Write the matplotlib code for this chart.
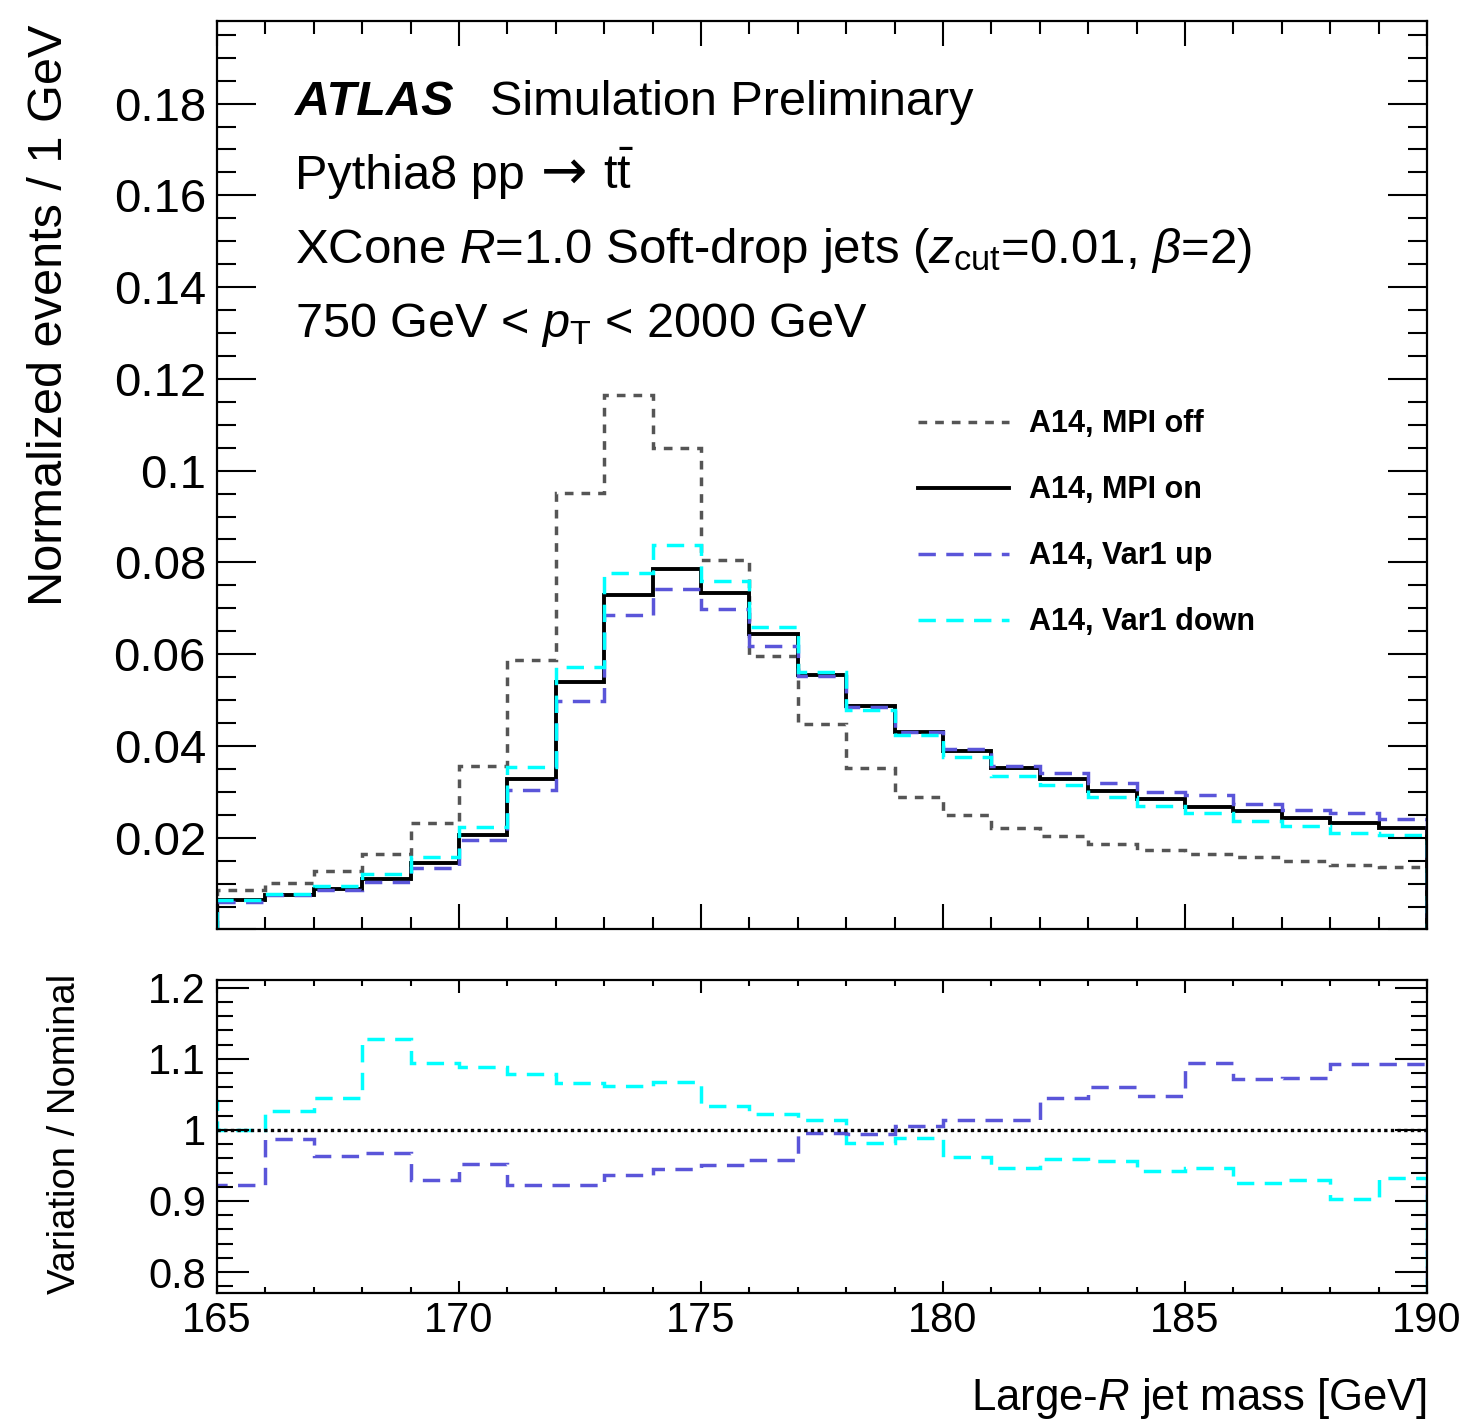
import numpy as np
import matplotlib
matplotlib.use("Agg")
import matplotlib.pyplot as plt
from matplotlib.ticker import MultipleLocator, FormatStrFormatter, FuncFormatter

plt.rcParams['font.family'] = ['Liberation Sans', 'DejaVu Sans']
plt.rcParams['mathtext.fontset'] = 'custom'
plt.rcParams['mathtext.rm'] = 'Liberation Sans'
plt.rcParams['mathtext.it'] = 'Liberation Sans:italic'
plt.rcParams['mathtext.bf'] = 'Liberation Sans:bold'

# 1 GeV bins, 165 - 190 GeV
bin_edges = np.arange(165, 191)
mpi_off = [0.0085, 0.0102, 0.0127, 0.0165, 0.0232, 0.0356, 0.0588, 0.0952, 0.1164, 0.1050,
           0.0806, 0.0596, 0.0448, 0.0351, 0.0288, 0.0250, 0.0222, 0.0204, 0.0186, 0.0173,
           0.0165, 0.0157, 0.0150, 0.0141, 0.0137]
mpi_on = [0.0065, 0.0075, 0.0088, 0.0109, 0.0145, 0.0206, 0.0329, 0.0539, 0.0730, 0.0785,
          0.0734, 0.0645, 0.0555, 0.0486, 0.0430, 0.0389, 0.0352, 0.0327, 0.0301, 0.0285,
          0.0268, 0.0258, 0.0242, 0.0232, 0.0221]
var1_up = [0.0059, 0.0075, 0.0085, 0.0104, 0.0134, 0.0195, 0.0303, 0.0497, 0.0686, 0.0741,
           0.0698, 0.0617, 0.0553, 0.0485, 0.0430, 0.0394, 0.0356, 0.0341, 0.0319, 0.0299,
           0.0293, 0.0274, 0.0261, 0.0253, 0.0240]
var1_down = [0.0065, 0.0077, 0.0095, 0.0122, 0.0158, 0.0224, 0.0355, 0.0573, 0.0777, 0.0838,
             0.0759, 0.0660, 0.0562, 0.0478, 0.0424, 0.0375, 0.0334, 0.0314, 0.0288, 0.0269,
             0.0253, 0.0237, 0.0226, 0.0210, 0.0205]

# ratio panel (first bin 164-165 only shows as the edge step)
ratio_edges = np.arange(164, 191)
ratio_up = [0.922, 0.922, 0.987, 0.963, 0.967, 0.930, 0.952, 0.922, 0.923, 0.937, 0.945,
            0.951, 0.957, 0.995, 0.994, 1.006, 1.014, 1.014, 1.045, 1.060, 1.048,
            1.094, 1.071, 1.073, 1.092, 1.092]
ratio_down = [1.040, 1.000, 1.026, 1.045, 1.128, 1.0945, 1.089, 1.079, 1.0655, 1.062, 1.068,
              1.034, 1.023, 1.014, 0.982, 0.989, 0.962, 0.946, 0.959, 0.9565, 0.942,
              0.947, 0.925, 0.930, 0.903, 0.933]

labels = ['A14, MPI off', 'A14, MPI on', 'A14, Var1 up', 'A14, Var1 down']
c_gray = '#555555'
c_blue = '#5a55d9'
c_cyan = '#00ffff'

fig = plt.figure(figsize=(14.65, 14.21), dpi=100)
ax = fig.add_axes([0.14812, 0.34589, 0.82594, 0.63934])
rax = fig.add_axes([0.14812, 0.09008, 0.82594, 0.22027])

ax.stairs(mpi_off, bin_edges, color=c_gray, lw=2.5, linestyle=(0, (2.5, 2.3)), label=labels[0])
ax.stairs(mpi_on, bin_edges, color='black', lw=2.8, label=labels[1])
ax.stairs(var1_up, bin_edges, color=c_blue, lw=2.5, linestyle=(0, (5, 3)), label=labels[2])
ax.stairs(var1_down, bin_edges, color=c_cyan, lw=2.5, linestyle=(0, (5, 3)), label=labels[3])

rax.stairs(ratio_up, ratio_edges, color=c_blue, lw=2.5, linestyle=(0, (5, 3)))
rax.stairs(ratio_down, ratio_edges, color=c_cyan, lw=2.5, linestyle=(0, (5, 3)))
rax.axhline(1.0, color='black', lw=2.4, linestyle=(0, (1, 1)))

ax.set_xlim(165, 190)
ax.set_ylim(0, 0.198)
rax.set_xlim(165, 190)
rax.set_ylim(0.7706, 1.2108)

for a in (ax, rax):
    a.xaxis.set_major_locator(MultipleLocator(5))
    a.xaxis.set_minor_locator(MultipleLocator(1))
    for s in a.spines.values():
        s.set_linewidth(1.6)
    a.tick_params(which='both', direction='in', top=True, right=True, width=1.5)

ax.yaxis.set_major_locator(MultipleLocator(0.02))
ax.yaxis.set_minor_locator(MultipleLocator(0.005))
ax.yaxis.set_major_formatter(FuncFormatter(lambda v, p: '' if abs(v) < 1e-9 else '%g' % v))
ax.tick_params(axis='x', which='major', length=18, labelbottom=False)
ax.tick_params(axis='x', which='minor', length=9)
ax.tick_params(axis='y', which='major', length=28, labelsize=34, pad=8)
ax.tick_params(axis='y', which='minor', length=14)

rax.yaxis.set_major_locator(MultipleLocator(0.1))
rax.yaxis.set_minor_locator(MultipleLocator(0.02))
rax.yaxis.set_major_formatter(FormatStrFormatter('%g'))
rax.tick_params(axis='x', which='major', length=9, labelsize=30, pad=6)
rax.tick_params(axis='x', which='minor', length=4.5)
rax.tick_params(axis='y', which='major', length=23, labelsize=30, pad=8)
rax.tick_params(axis='y', which='minor', length=11.5)

ax.legend(loc='upper left', bbox_to_anchor=(0.6269, 0.712), bbox_transform=fig.transFigure,
          frameon=False, prop={'weight': 'bold', 'size': 22}, handlelength=2.95,
          handletextpad=0.68, labelspacing=1.18, borderpad=0, borderaxespad=0)

fig.text(0.2014, 0.9191, 'ATLAS', fontsize=35, fontweight='bold', fontstyle='italic', va='baseline')
fig.text(0.3345, 0.9191, 'Simulation Preliminary', fontsize=35, va='baseline')
fig.text(0.2014, 1 - 189 / 1421, 'Pythia8 pp', fontsize=35, va='baseline')
fig.text(541 / 1465, 1 - 189 / 1421, '→', fontsize=40, family='DejaVu Sans', va='baseline')
fig.text(603 / 1465, 1 - 189 / 1421, r't$\bar{\mathrm{t}}$', fontsize=35, va='baseline')
fig.text(0.2014, 1 - 263 / 1421,
         r'XCone $R$=1.0 Soft-drop jets ($z_{\mathrm{cut}}$=0.01, $\beta$=2)', fontsize=35.5, va='baseline')
fig.text(0.2014, 1 - 337 / 1421, r'750 GeV < $p_{\mathrm{T}}$ < 2000 GeV', fontsize=35, va='baseline')

fig.text(0.0341, 1 - 25 / 1421, 'Normalized events / 1 GeV', rotation=90, fontsize=35,
         ha='center', va='top')
fig.text(0.0444, 1 - 1134 / 1421, 'Variation / Nominal', rotation=90, fontsize=27.5,
         ha='center', va='center')
fig.text(1427 / 1465, 1 - 1410 / 1421, r'Large-$R$ jet mass [GeV]', fontsize=31.5,
         ha='right', va='baseline')

fig.savefig('out.png', dpi=100)
